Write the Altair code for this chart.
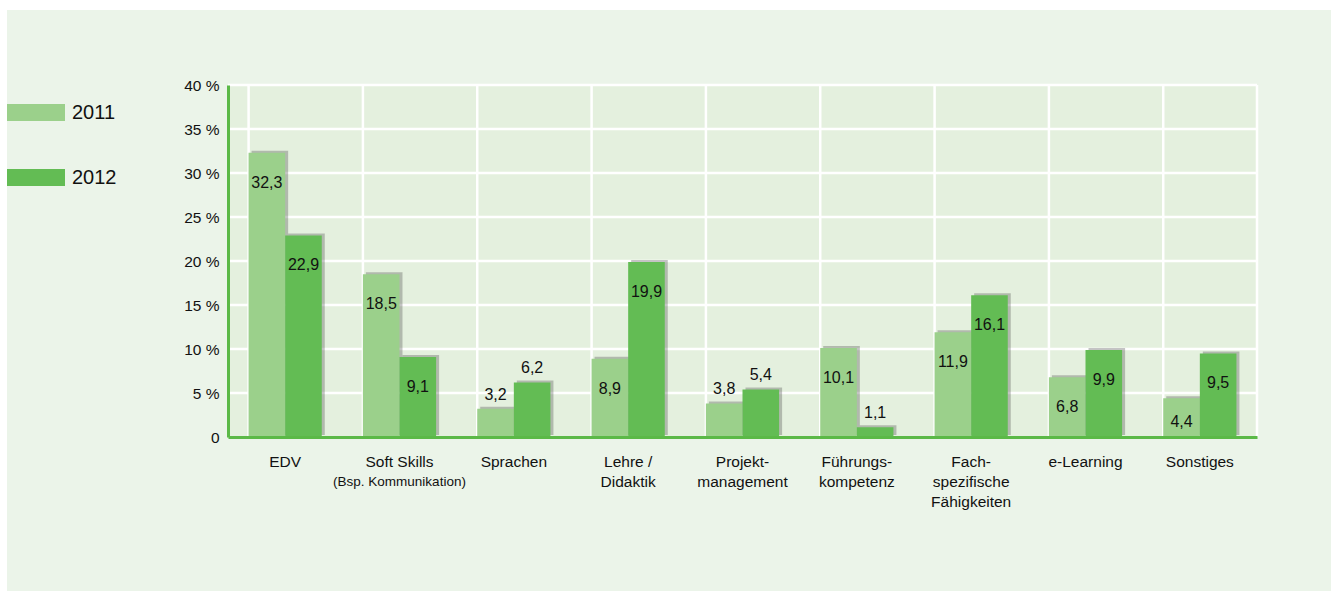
import altair as alt
import pandas as pd

categories = ["EDV", "Soft Skills", "Sprachen", "Lehre /|Didaktik", "Projekt-|management",
              "Führungs-|kompetenz", "Fach-|spezifische|Fähigkeiten", "e-Learning", "Sonstiges"]
subtitles = ["", "(Bsp. Kommunikation)", "", "", "", "", "", "", ""]
years = ["2011", "2012"]
values_2011 = [32.3, 18.5, 3.2, 8.9, 3.8, 10.1, 11.9, 6.8, 4.4]
values_2012 = [22.9, 9.1, 6.2, 19.9, 5.4, 1.1, 16.1, 9.9, 9.5]
inside_2011 = [True, True, False, True, False, True, True, True, True]
inside_2012 = [True, True, False, True, False, False, True, True, True]
y_ticks = [0, 5, 10, 15, 20, 25, 30, 35, 40]

C2011 = "#9bd08b"
C2012 = "#63bc54"
AXIS_GREEN = "#5bb947"
PLOT_BG = "#e4f0de"
PANEL_BG = "#ebf4e9"
FONT = "Liberation Sans"

W, H = 1029, 352
BW = 36.6  # half of the band

rows = []
for i, c in enumerate(categories):
    rows.append({"cat": c, "year": "2011", "value": values_2011[i], "inside": inside_2011[i]})
    rows.append({"cat": c, "year": "2012", "value": values_2012[i], "inside": inside_2012[i]})
df = pd.DataFrame(rows)
df["label"] = df["value"].map(lambda v: f"{v:.1f}".replace(".", ","))

cat_df = pd.DataFrame({"cat": categories, "sub": subtitles})
tick_df = pd.DataFrame({"t": y_ticks[1:]})

xs = alt.Scale(domain=categories, paddingInner=0.36, paddingOuter=0.18)
ys = alt.Scale(domain=[0, 40], nice=False)
x_axis = alt.Axis(labelExpr="split(datum.label, '|')", labelAngle=0, ticks=False,
                  domainColor=AXIS_GREEN, domainWidth=3, labelFontSize=15.5,
                  labelLineHeight=20, labelPadding=17, labelColor="#111",
                  labelFont=FONT, grid=False, zindex=1)
y_axis = alt.Axis(values=y_ticks, labelExpr="datum.value == 0 ? '0' : datum.value + ' %'",
                  ticks=False, grid=False, domainColor=AXIS_GREEN, domainWidth=3,
                  labelFontSize=15.5, labelPadding=9, labelColor="#111", labelFont=FONT,
                  zindex=1)


def X(**kw):
    return alt.X("cat:N", scale=xs, sort=categories, title=None, axis=x_axis, **kw)


def Y(field):
    return alt.Y(field, scale=ys, title=None, axis=y_axis)


color = alt.Color("year:N", scale=alt.Scale(domain=years, range=[C2011, C2012]),
                  legend=alt.Legend(title=None, orient="none", legendX=-221, legendY=-1.5,
                                    symbolType="M-1,-0.293L1,-0.293L1,0.293L-1,0.293Z",
                                    symbolSize=3364, symbolStrokeWidth=0, symbolOpacity=1,
                                    labelFontSize=20, labelFont=FONT, labelColor="#111",
                                    labelOffset=7, rowPadding=26, padding=0))

one = alt.Data(values=[{}])

panel = alt.Chart(one).mark_rect(color=PANEL_BG).encode(
    x=alt.value(-221), x2=alt.value(1103), y=alt.value(-75), y2=alt.value(506))
plotbg = alt.Chart(one).mark_rect(color=PLOT_BG).encode(
    x=alt.value(0), x2=alt.value(W), y=alt.value(0), y2=alt.value(H))

hgrid = alt.Chart(tick_df).mark_rule(color="white", strokeWidth=2.5).encode(
    y=Y("t:Q"), x=alt.value(0), x2=alt.value(W))
vgrid = alt.Chart(cat_df).mark_rule(color="white", strokeWidth=2.5).encode(
    x=X(bandPosition=0), y=alt.value(0), y2=alt.value(H))
redge = alt.Chart(one).mark_rule(color="white", strokeWidth=2.5).encode(
    x=alt.value(W), y=alt.value(0), y2=alt.value(H))

layers = [panel, plotbg, hgrid, vgrid, redge]

offsets = {"2011": -BW / 2, "2012": BW / 2}
for yr in years:
    layers.append(
        alt.Chart(df).transform_filter(f"datum.year == '{yr}'").mark_bar(
            color="#3a3a3a", opacity=0.3, width=BW, xOffset=offsets[yr] + 3, yOffset=-2
        ).encode(x=X(), y=Y("value:Q"))
    )
for yr in years:
    layers.append(
        alt.Chart(df).transform_filter(f"datum.year == '{yr}'").mark_bar(
            width=BW, xOffset=offsets[yr], opacity=1
        ).encode(x=X(), y=Y("value:Q"), color=color)
    )
for yr in years:
    layers.append(
        alt.Chart(df).transform_filter(f"datum.year == '{yr}'").transform_calculate(
            ly="datum.inside ? max(datum.value - 3.4, datum.value * 0.4) : datum.value + 1.6"
        ).mark_text(fontSize=16, font=FONT, color="#111", baseline="middle",
                    xOffset=offsets[yr]).encode(x=X(), y=Y("ly:Q"), text="label:N")
    )

subs = alt.Chart(cat_df).transform_filter("datum.sub != ''").mark_text(
    fontSize=13.5, font=FONT, color="#111", baseline="middle").encode(
    x=X(), y=alt.value(H + 45), text="sub:N")
layers.append(subs)

chart = alt.layer(*layers).properties(
    width=W, height=H,
    padding={"left": 228, "top": 85, "right": 76, "bottom": 154},
    autosize=alt.AutoSizeParams(type="none"),
    background="white",
).configure_view(stroke=None)

chart.save("out.html", embed_options={"renderer": "svg", "actions": False})
